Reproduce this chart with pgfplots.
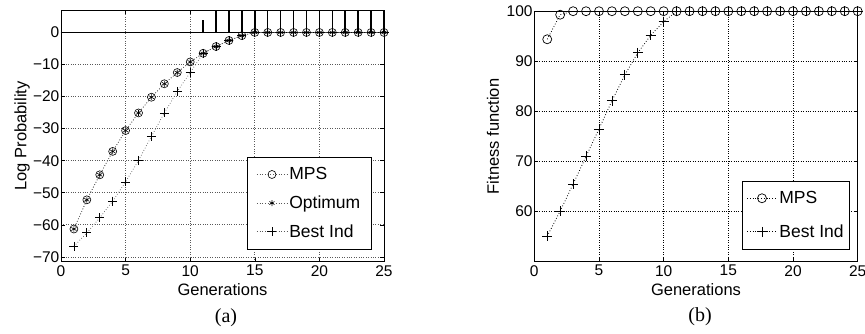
\documentclass[border=0pt]{standalone}
\usepackage{fontspec}
\setmainfont{Liberation Sans}
\newfontfamily\capfont{Liberation Serif}
\usepackage{pgfplots}
\pgfplotsset{compat=1.18}
\pgfplotsset{
  mystyle/.style={
    scale only axis,
    /pgf/number format/assume math mode=true,
    tick align=inside,
    major tick length=4pt,
    tick style={black, line width=0.6pt},
    axis line style={line width=0.8pt},
    grid=major,
    xmin=0, xmax=25, xtick={0,5,...,25},
    tick label style={font=\fontsize{15.5}{17}\selectfont},
    yticklabel style={inner sep=1.5pt},
    label style={font=\fontsize{16.5}{19}\selectfont},
    xlabel={Generations},
    xlabel style={at={(axis description cs:0.5,-0.1124)}, anchor=center},
    legend cell align=left,
    legend style={font=\fontsize{17.5}{20}\selectfont, draw=black, line width=0.8pt, inner xsep=4pt, inner ysep=8pt},
    legend image code/.code={
      \draw[mark repeat=2,mark phase=2,#1] plot coordinates {(0pt,0pt) (15pt,0pt) (30pt,0pt)};
    },
  }
}
\begin{document}
\begin{tikzpicture}[x=1pt,y=1pt]
\useasboundingbox (0,0) rectangle (865,333);
% ---------- (a) ----------
\begin{axis}[mystyle,
  at={(61pt,71.3pt)}, anchor=south west,
  width=323pt, height=251.7pt,
  major grid style={dotted, line width=0.7pt, black!65},
  ymin=-71.5, ymax=7,
  ytick={-70,-60,...,0},
  yticklabels={−70,−60,−50,−40,−30,−20,−10,0},
  ylabel={Log Probability},
  ylabel style={at={(axis description cs:-0.1207,0.5)}, anchor=center},
  legend style={at={(1,0)}, anchor=south east, xshift=-12.3pt, yshift=12.4pt, row sep=10.6pt, inner xsep=9pt},
]
\addplot[black, line width=1.8pt, forget plot] coordinates {(0,0) (25,0)};
\addplot[ycomb, black, line width=1.5pt, forget plot] coordinates {
(11,4) (12,10) (13,10) (14,10) (15,10) (16,10) (17,10) (18,10) (19,10) (20,10) (21,10) (22,10) (23,10) (24,10) (25,10)};
\addplot[black!65, dotted, line width=0.7pt, mark=o, mark size=4pt, mark options={solid, black, line width=0.6pt}] coordinates {
(1,-61.3) (2,-52.2) (3,-44.4) (4,-37.1) (5,-30.6) (6,-25.1) (7,-20.2) (8,-16.0) (9,-12.5) (10,-9.2) (11,-6.5) (12,-4.4) (13,-2.5) (14,-1.0) (15,0) (16,0) (17,0) (18,0) (19,0) (20,0) (21,0) (22,0) (23,0) (24,0) (25,0)};
\addlegendentry{MPS}
\addplot[black!65, dotted, line width=0.7pt, mark=asterisk, mark size=3pt, mark options={solid, black, line width=0.6pt}] coordinates {
(1,-61.3) (2,-52.2) (3,-44.4) (4,-37.1) (5,-30.6) (6,-25.1) (7,-20.2) (8,-16.0) (9,-12.5) (10,-9.2) (11,-6.5) (12,-4.4) (13,-2.5) (14,-1.0) (15,0) (16,0) (17,0) (18,0) (19,0) (20,0) (21,0) (22,0) (23,0) (24,0) (25,0)};
\addlegendentry{Optimum}
\addplot[black!65, dotted, line width=0.7pt, mark=+, mark size=4.5pt, mark options={solid, black, line width=0.7pt}] coordinates {
(1,-66.7) (2,-62.5) (3,-57.8) (4,-52.6) (5,-46.6) (6,-39.9) (7,-32.4) (8,-25.1) (9,-18.4) (10,-12.5) (11,-6.5) (12,-4.4) (13,-2.5) (14,-1.0) (15,0) (16,0) (17,0) (18,0) (19,0) (20,0) (21,0) (22,0) (23,0) (24,0) (25,0)};
\addlegendentry{Best Ind}
\end{axis}
% ---------- (b) ----------
\begin{axis}[mystyle,
  at={(534.3pt,71.3pt)}, anchor=south west,
  width=323.4pt, height=250.5pt,
  major grid style={dotted, line width=0.8pt, black},
  ymin=50, ymax=100,
  ytick={60,70,...,100},
  ylabel={Fitness function},
  ylabel style={at={(axis description cs:-0.1277,0.5)}, anchor=center},
  legend style={at={(1,0)}, anchor=south east, xshift=-7.7pt, yshift=12.4pt, row sep=15.6pt},
]
\addplot[black, dotted, line width=0.8pt, mark=o, mark size=4.5pt, mark options={solid, line width=0.7pt}] coordinates {
(1,94.4) (2,99.3) (3,100) (4,100) (5,100) (6,100) (7,100) (8,100) (9,100) (10,100) (11,100) (12,100) (13,100) (14,100) (15,100) (16,100) (17,100) (18,100) (19,100) (20,100) (21,100) (22,100) (23,100) (24,100) (25,100)};
\addlegendentry{MPS}
\addplot[black, dotted, line width=0.8pt, mark=+, mark size=5pt, mark options={solid, line width=0.8pt}] coordinates {
(1,55.1) (2,60.1) (3,65.5) (4,71.0) (5,76.5) (6,82.1) (7,87.3) (8,91.7) (9,95.2) (10,97.9) (11,100) (12,100) (13,100) (14,100) (15,100) (16,100) (17,100) (18,100) (19,100) (20,100) (21,100) (22,100) (23,100) (24,100) (25,100)};
\addlegendentry{Best Ind}
\end{axis}
\node[font=\capfont\fontsize{20}{22}\selectfont] at (226,15) {(a)};
\node[font=\capfont\fontsize{20}{22}\selectfont] at (700,16) {(b)};
\end{tikzpicture}
\end{document}
